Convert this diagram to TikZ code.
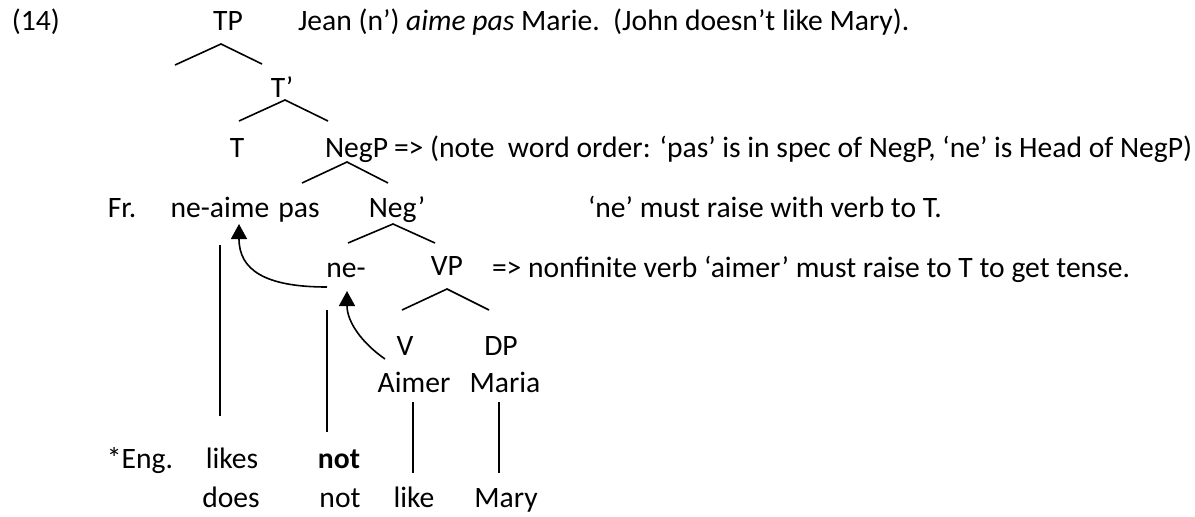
\documentclass[tikz,border=0pt]{standalone}
\usepackage{fontspec}
\setmainfont{Carlito}
\usetikzlibrary{arrows.meta}
\begin{document}
\begin{tikzpicture}[x=1pt,y=-1pt,
  every node/.style={font=\fontsize{29.6}{36}\selectfont, inner sep=0pt, outer sep=0pt},
  lbl/.style={anchor=base},
  txt/.style={anchor=base west},
  branch/.style={line width=1.6pt},
  assoc/.style={line width=1.6pt},
  move/.style={line width=1.6pt, -{Triangle[length=15pt,width=16pt]}}]
\useasboundingbox (0,0) rectangle (1195,517);
% header
\node[txt] (num) at (12,30) {(14)};
\node[lbl] (TP) at (228,30) {TP};
\node[txt] (gloss) at (298,30) {Jean (n’) \textit{aime pas} Marie.\ \ (John doesn’t like Mary).};
% tree labels
\node[lbl] (Tbar) at (282,97) {T’};
\node[lbl] (T) at (237,157) {T};
\node[txt] (NegP) at (325,157) {NegP};
\node[txt] (c1) at (394,157) {=> (note\ \ word order: ‘pas’ is in spec of NegP, ‘ne’ is Head of NegP)};
\node[lbl] (Fr) at (122,217) {Fr.};
\node[lbl] (neaime) at (220,217) {ne-aime};
\node[lbl] (pas) at (299,217) {pas};
\node[lbl] (Negbar) at (397,217) {Neg’};
\node[txt] (c2) at (588,217) {‘ne’ must raise with verb to T.};
\node[lbl] (ne) at (346,277) {ne-};
\node[lbl] (VP) at (447,275) {VP};
\node[txt] (c3) at (492,277) {=> nonfinite verb ‘aimer’ must raise to T to get tense.};
\node[lbl] (V) at (405,355) {V};
\node[lbl] (DP) at (501,355) {DP};
\node[lbl] (Aimer) at (414,392) {Aimer};
\node[lbl] (Maria) at (505,392) {Maria};
\node[lbl] (Eng) at (140,468) {*Eng.};
\node[lbl] (likes) at (232,468) {likes};
\node[lbl] (notb) at (339,468) {\textbf{not}};
\node[lbl] (does) at (231,507) {does};
\node[lbl] (not) at (340,507) {not};
\node[lbl] (like) at (414,507) {like};
\node[lbl] (Mary) at (506,507) {Mary};
% branch coordinates
\coordinate (tpA) at (221,44); \coordinate (tpL) at (175,65); \coordinate (tpR) at (262,64);
\coordinate (tbA) at (285,100); \coordinate (tbL) at (239,121); \coordinate (tbR) at (328,121);
\coordinate (npA) at (347,162); \coordinate (npL) at (302,183); \coordinate (npR) at (388,183);
\coordinate (nbA) at (393,224); \coordinate (nbL) at (348,243); \coordinate (nbR) at (435,243);
\coordinate (vpA) at (447,289); \coordinate (vpL) at (402,310); \coordinate (vpR) at (489,310);
\draw[branch] (tpL) -- (tpA) -- (tpR);
\draw[branch] (tbL) -- (tbA) -- (tbR);
\draw[branch] (npL) -- (npA) -- (npR);
\draw[branch] (nbL) -- (nbA) -- (nbR);
\draw[branch] (vpL) -- (vpA) -- (vpR);
% association lines
\coordinate (a1t) at (220,245); \coordinate (a1b) at (220,416);
\coordinate (a2t) at (327,310); \coordinate (a2b) at (327,432);
\coordinate (a3t) at (413,402); \coordinate (a3b) at (413,473);
\coordinate (a4t) at (499,402); \coordinate (a4b) at (499,473);
\draw[assoc] (a1t) -- (a1b);
\draw[assoc] (a2t) -- (a2b);
\draw[assoc] (a3t) -- (a3b);
\draw[assoc] (a4t) -- (a4b);
% movement arrows
\coordinate (m1s) at (327,287); \coordinate (m1e) at (239,224);
\coordinate (m2s) at (385,359); \coordinate (m2e) at (347,291);
\draw[move] (m1s) .. controls (265,287) and (239,270) .. (m1e);
\draw[move] (m2s) .. controls (362,343) and (347,322) .. (m2e);
\end{tikzpicture}
\end{document}
